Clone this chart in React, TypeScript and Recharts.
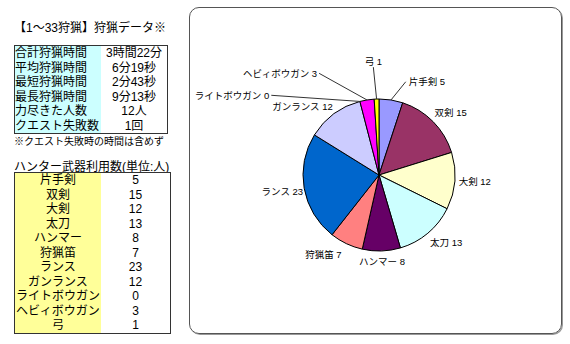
import { PieChart, Pie, Cell } from 'recharts'

const WEAPONS = ['片手剣', '双剣', '大剣', '太刀', 'ハンマー', '狩猟笛', 'ランス', 'ガンランス', 'ライトボウガン', 'ヘビィボウガン', '弓']
const USERS = [5, 15, 12, 13, 8, 7, 23, 12, 0, 3, 1]
const SLICE_COLORS = ['#9999ff', '#993366', '#ffffcc', '#ccffff', '#660066', '#ff8080', '#0066cc', '#ccccff', '#00ccff', '#ff00ff', '#ffff00']

const STAT_LABELS = ['合計狩猟時間', '平均狩猟時間', '最短狩猟時間', '最長狩猟時間', '力尽きた人数', 'クエスト失敗数']
const STAT_VALUES = ['3時間22分', '6分19秒', '2分43秒', '9分13秒', '12人', '1回']

const pieData = WEAPONS.map((name, i) => ({ name, value: USERS[i] }))

// where Excel put each data label: clockwise angle from 12 o'clock and distance from the centre
const LABEL_SPOTS: Record<string, { angle: number; dist: number }> = {
  双剣: { angle: 49, dist: 95 },
  大剣: { angle: 94, dist: 96 },
  太刀: { angle: 135, dist: 95 },
  ハンマー: { angle: 178, dist: 87 },
  狩猟笛: { angle: 215, dist: 97 },
  ランス: { angle: 260.5, dist: 98 },
  ガンランス: { angle: 312, dist: 103 },
}

// labels dragged away from the thin slices, joined back with a leader line
const LEADERS: Record<string, { angle: number; dist: number; anchor: 'start' | 'end' | 'middle' }> = {
  片手剣: { angle: 16, dist: 97, anchor: 'start' },
  弓: { angle: -3, dist: 108, anchor: 'middle' },
  ヘビィボウガン: { angle: -30.5, dist: 118, anchor: 'end' },
  ライトボウガン: { angle: -53.5, dist: 134, anchor: 'end' },
}

const FONT = '"Liberation Sans", "Noto Sans CJK JP", sans-serif'
const RAD = Math.PI / 180

function SliceLabel(props: any) {
  const { cx, cy, midAngle, outerRadius, name, value } = props
  const text = `${name} ${value}`
  const lead = LEADERS[name]
  if (!lead) {
    const spot = LABEL_SPOTS[name]
    const x = cx + spot.dist * Math.sin(spot.angle * RAD)
    const y = cy - spot.dist * Math.cos(spot.angle * RAD)
    return (
      <text x={x} y={y} textAnchor="middle" dominantBaseline="central" fontSize={9.5} fill="#000" fontFamily={FONT}>
        {text}
      </text>
    )
  }
  const sx = cx + outerRadius * Math.cos(-midAngle * RAD)
  const sy = cy + outerRadius * Math.sin(-midAngle * RAD)
  const ex = cx + lead.dist * Math.sin(lead.angle * RAD)
  const ey = cy - lead.dist * Math.cos(lead.angle * RAD)
  let tx = ex
  let ty = ey
  if (lead.anchor === 'start') tx = ex + 3
  if (lead.anchor === 'end') tx = ex - 2
  if (lead.anchor === 'middle') ty = ey - 6
  return (
    <g>
      <polyline points={`${sx},${sy} ${ex},${ey}`} stroke="#333" strokeWidth={1} fill="none" />
      <text x={tx} y={ty} textAnchor={lead.anchor} dominantBaseline="central" fontSize={9.5} fill="#000" fontFamily={FONT}>
        {text}
      </text>
    </g>
  )
}

function Table({
  labels,
  values,
  fill,
  top,
  width,
  alignLabel,
}: {
  labels: string[]
  values: (string | number)[]
  fill: string
  top: number
  width: number
  alignLabel: 'left' | 'center'
}) {
  return (
    <div
      style={{
        position: 'absolute',
        left: 14,
        top,
        width,
        border: '1px solid #333',
        background: '#fff',
        fontSize: 12,
        lineHeight: '14.5px',
      }}
    >
      {labels.map((label, i) => (
        <div key={label} style={{ display: 'flex' }}>
          <div style={{ width: 86, background: fill, textAlign: alignLabel, whiteSpace: 'nowrap' }}>{label}</div>
          <div style={{ flex: 1, textAlign: 'center' }}>{values[i]}</div>
        </div>
      ))}
    </div>
  )
}

export default function App() {
  return (
    <div
      style={{
        position: 'absolute',
        left: 0,
        top: 0,
        width: 570,
        height: 344,
        background: '#fff',
        fontFamily: FONT,
        color: '#000',
        overflow: 'hidden',
      }}
    >
      <div style={{ position: 'absolute', left: 14, top: 18, fontSize: 12, whiteSpace: 'nowrap' }}>【1～33狩猟】狩猟データ※</div>
      <Table labels={STAT_LABELS} values={STAT_VALUES} fill="#ccffff" top={45} width={152} alignLabel="left" />
      <div style={{ position: 'absolute', left: 14, top: 133, fontSize: 10, whiteSpace: 'nowrap' }}>※クエスト失敗時の時間は含めず</div>
      <div style={{ position: 'absolute', left: 14, top: 157, fontSize: 12, whiteSpace: 'nowrap' }}>ハンター武器利用数(単位:人)</div>
      <Table labels={WEAPONS} values={USERS} fill="#ffff99" top={172} width={155} alignLabel="center" />

      <div
        style={{
          position: 'absolute',
          left: 189,
          top: 7,
          width: 371,
          height: 325,
          border: '1px solid #555',
          borderRadius: 10,
          boxShadow: '1px 1px 0 #999',
        }}
      />
      <div style={{ position: 'absolute', left: 0, top: 0 }}>
        <PieChart width={570} height={344}>
          <Pie
            data={pieData}
            dataKey="value"
            nameKey="name"
            cx={374}
            cy={170}
            outerRadius={76}
            startAngle={90}
            endAngle={-270}
            stroke="#000"
            strokeWidth={1}
            label={SliceLabel}
            labelLine={false}
            isAnimationActive={false}
          >
            {pieData.map((d, i) => (
              <Cell key={d.name} fill={SLICE_COLORS[i]} />
            ))}
          </Pie>
        </PieChart>
      </div>
    </div>
  )
}
